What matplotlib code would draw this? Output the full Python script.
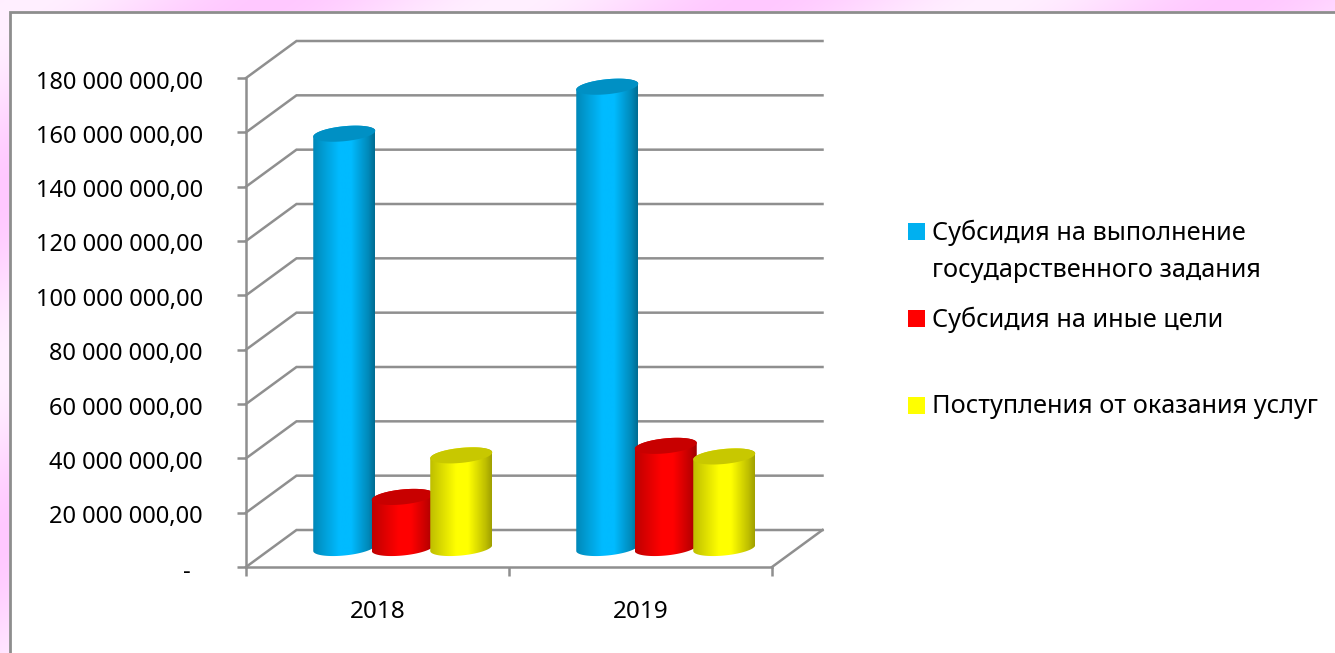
import numpy as np
import matplotlib
matplotlib.use("Agg")
import matplotlib.pyplot as plt
from matplotlib.colors import LinearSegmentedColormap
from matplotlib.patches import Polygon, Rectangle
from matplotlib.transforms import ScaledTranslation

years = ["2018", "2019"]
series_names = ["Субсидия на выполнение\nгосударственного задания",
                "Субсидия на иные цели",
                "Поступления от оказания услуг"]
subsidy_task = [152.5e6, 169.8e6]
subsidy_other = [18.8e6, 37.6e6]
services = [34.1e6, 33.7e6]
y_ticks = [0, 20e6, 40e6, 60e6, 80e6, 100e6, 120e6, 140e6, 160e6, 180e6]
y_labels = ["-  ", "20 000 000,00", "40 000 000,00", "60 000 000,00", "80 000 000,00",
            "100 000 000,00", "120 000 000,00", "140 000 000,00", "160 000 000,00", "180 000 000,00"]

W, H = 1335, 653
FONT = ["Noto Sans", "DejaVu Sans"]
plt.rcParams["font.family"] = FONT
GRAY = "#8f8f8f"
LW = 1.8

fig = plt.figure(figsize=(W / 100, H / 100), dpi=100, facecolor="white")

# decorative pink background
bg = fig.add_axes([0, 0, 1, 1], zorder=0)
bg.set_axis_off()
xx, yy = np.meshgrid(np.arange(W), np.arange(H))
phase = np.cos(2 * np.pi * (xx + 1.4 * yy - 272) / 485)
light = np.array([255, 240, 255]) / 255
pink = np.array([255, 200, 255]) / 255
mix = (0.5 + 0.5 * phase)[..., None]
bg.imshow(mix * pink + (1 - mix) * light, extent=(0, W, H, 0), aspect="auto")
bg.set_xlim(0, W)
bg.set_ylim(H, 0)
bg.add_patch(Rectangle((9, 11), W, H, fc="white", ec="none"))
bg.plot([9.5, 9.5, W], [H, 11.5, 11.5], color="#8d8d8d", lw=2.0, solid_joinstyle="miter")

# main plot: x in category units, y in value units
L, R, BOT, TOP = 246, 772, 567, 78
ax = fig.add_axes([L / W, 1 - BOT / H, (R - L) / W, (BOT - TOP) / H], zorder=1)
ax.patch.set_alpha(0)
ax.set_xlim(0, 2)
ax.set_ylim(0, 180e6)
px_x = (R - L) / 2            # pixels per category
px_y = (BOT - TOP) / 180e6    # pixels per value unit
depth_x = 50.5 / px_x
depth_y = 37 / px_y

# walls
for v in y_ticks:
    ax.plot([0, depth_x, 2 + depth_x], [v, v + depth_y, v + depth_y], color=GRAY, lw=LW,
            clip_on=False, zorder=1, solid_joinstyle="miter")
ax.plot([2, 2 + depth_x], [0, depth_y], color=GRAY, lw=LW, clip_on=False, zorder=1)

for s in ("top", "right"):
    ax.spines[s].set_visible(False)
for s in ("left", "bottom"):
    ax.spines[s].set_color(GRAY)
    ax.spines[s].set_linewidth(LW)
    ax.spines[s].set_zorder(1)
ax.set_yticks(y_ticks)
ax.set_yticklabels(y_labels)
ax.set_xticks([0, 1, 2])
ax.set_xticklabels([])
ax.set_xticks([0.5, 1.5], minor=True)
ax.set_xticklabels(years, minor=True)
ax.tick_params(axis="y", length=6.5, width=LW, color=GRAY, pad=24.5, labelsize=17, labelcolor="black")
ax.tick_params(axis="x", which="major", length=6.5, width=LW, color=GRAY)
ax.tick_params(axis="x", which="minor", length=0, pad=24, labelsize=17.5, labelcolor="black")
shift = ScaledTranslation(0, -1.5 / 100, fig.dpi_scale_trans)
for lbl in ax.get_yticklabels():
    lbl.set_transform(lbl.get_transform() + shift)

# cylinders
styles = [("#00BBFF", "#0088B8", "#006C92", "#0090C4"),
          ("#FF0000", "#BE0000", "#A00000", "#C80000"),
          ("#FFFF00", "#BEBE00", "#A0A000", "#C8C800")]
all_series = [subsidy_task, subsidy_other, services]
half_w = 31 / px_x
semi_b = 7.5 / px_y
shear = 0.095 * (1 / px_y) * px_x     # tilt of the elliptical caps
spacing = 58.5 / px_x
base = 19 / px_y
t = np.linspace(0, 2 * np.pi, 121)


def cap(xc, yc):
    dx = half_w * np.cos(t)
    return np.column_stack([xc + dx, yc + semi_b * np.sin(t) + shear * dx])


for s_i, (vals, sty) in enumerate(zip(all_series, styles)):
    bright, dark_l, dark_r, top_c = sty
    cmap = LinearSegmentedColormap.from_list(
        "c", [(0, dark_l), (0.42, bright), (0.62, bright), (0.9, dark_l), (1, dark_r)])
    for c_i, v in enumerate(vals):
        xc = c_i + 0.5 + depth_x / 2 + (s_i - 1) * spacing
        xs = np.linspace(0, 1, 128)[None, :]
        low = base - semi_b - half_w * shear
        high = base + v + semi_b + half_w * shear
        lower = cap(xc, base)[t >= np.pi]
        upper = cap(xc, base + v)[t <= np.pi]
        outline = np.vstack([lower, upper])
        z = 3 + s_i + c_i * 0.1
        im = ax.imshow(xs, extent=(xc - half_w, xc + half_w, low, high), aspect="auto",
                       cmap=cmap, vmin=0, vmax=1, origin="lower", zorder=z, interpolation="bilinear")
        clip = Polygon(outline, transform=ax.transData, fc="none", ec="none")
        ax.add_patch(clip)
        clip.set_clip_on(False)
        im.set_clip_path(clip)
        ax.add_patch(Polygon(cap(xc, base + v), fc=top_c, ec="none", zorder=z + 0.05, clip_on=False))
ax.set_xlim(0, 2)
ax.set_ylim(0, 180e6)
ax.set_aspect("auto")

# legend
lg = fig.add_axes([0, 0, 1, 1], zorder=2)
lg.set_axis_off()
lg.patch.set_alpha(0)
lg.set_xlim(0, W)
lg.set_ylim(H, 0)
legend_colors = ["#00B0F0", "#FF0000", "#FFFF00"]
legend_rows = [223, 310, 397]
for name, col, y in zip(series_names, legend_colors, legend_rows):
    lg.add_patch(Rectangle((908, y), 17, 17, fc=col, ec="none"))
    lg.text(932, y - 3, name, fontsize=18.2, color="black", va="top", ha="left", linespacing=1.6)

fig.savefig("out.png", dpi=100)
